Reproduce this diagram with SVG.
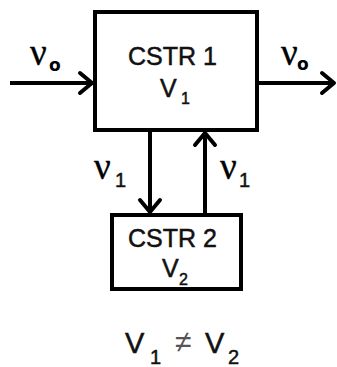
<svg xmlns="http://www.w3.org/2000/svg" width="337" height="367" viewBox="0 0 337 367">
<style>
.box{fill:#fff;stroke:#000;stroke-width:4}
.ln{stroke:#000;stroke-width:4;fill:none}
.hd{stroke:#000;stroke-width:4;fill:none;stroke-linecap:round;stroke-linejoin:round}
.t{font-family:"Liberation Sans",Arial,sans-serif;fill:#111;stroke:#111;stroke-width:0.5}
.nu{font-family:"Liberation Serif","Times New Roman",serif;fill:#000;stroke:#000;stroke-width:0.4}
.sb{font-family:"DejaVu Sans","Liberation Sans",sans-serif;font-weight:bold;fill:#000}
.ne{font-family:"Liberation Sans",Arial,sans-serif;fill:#555}
</style>
<g id="connectors">
<line class="ln" x1="10" y1="83" x2="93" y2="83"/>
<path class="hd" d="M80,73 L92,83 L80,93"/>
<line class="ln" x1="259" y1="83" x2="334" y2="83"/>
<path class="hd" d="M322,73 L334,83 L322,93"/>
<line class="ln" x1="150" y1="130" x2="150" y2="212"/>
<path class="hd" d="M140,200 L150,212 L160,200"/>
<line class="ln" x1="205" y1="215" x2="205" y2="133"/>
<path class="hd" d="M195,145 L205,133 L215,145"/>
</g>
<g id="cstr1">
<rect class="box" x="95" y="12" width="162" height="118"/>
<text class="t" x="128" y="65" font-size="25">CSTR 1</text>
<text class="t" x="160" y="97" font-size="25">V</text>
<text class="t" x="181" y="104" font-size="16">1</text>
</g>
<g id="cstr2">
<rect class="box" x="112" y="215" width="129" height="74"/>
<text class="t" x="128" y="247" font-size="25">CSTR 2</text>
<text class="t" x="162" y="277" font-size="25">V</text>
<text class="t" x="179" y="285" font-size="16">2</text>
</g>
<g id="labels">
<text class="nu" x="30" y="65" font-size="37">ν</text>
<text class="sb" x="49" y="71" font-size="17">o</text>
<text class="nu" x="281" y="65" font-size="37">ν</text>
<text class="sb" x="297" y="70" font-size="17">o</text>
<text class="nu" x="94" y="179" font-size="37">ν</text>
<text class="t" x="115" y="187" font-size="20">1</text>
<text class="nu" x="220" y="179" font-size="37">ν</text>
<text class="t" x="239" y="187" font-size="20">1</text>
<text class="t" x="125" y="353" font-size="29">V</text>
<text class="t" x="150" y="364" font-size="20">1</text>
<text class="ne" x="175" y="352" font-size="30">≠</text>
<text class="t" x="205" y="353" font-size="29">V</text>
<text class="t" x="228" y="364" font-size="20">2</text>
</g>
</svg>
